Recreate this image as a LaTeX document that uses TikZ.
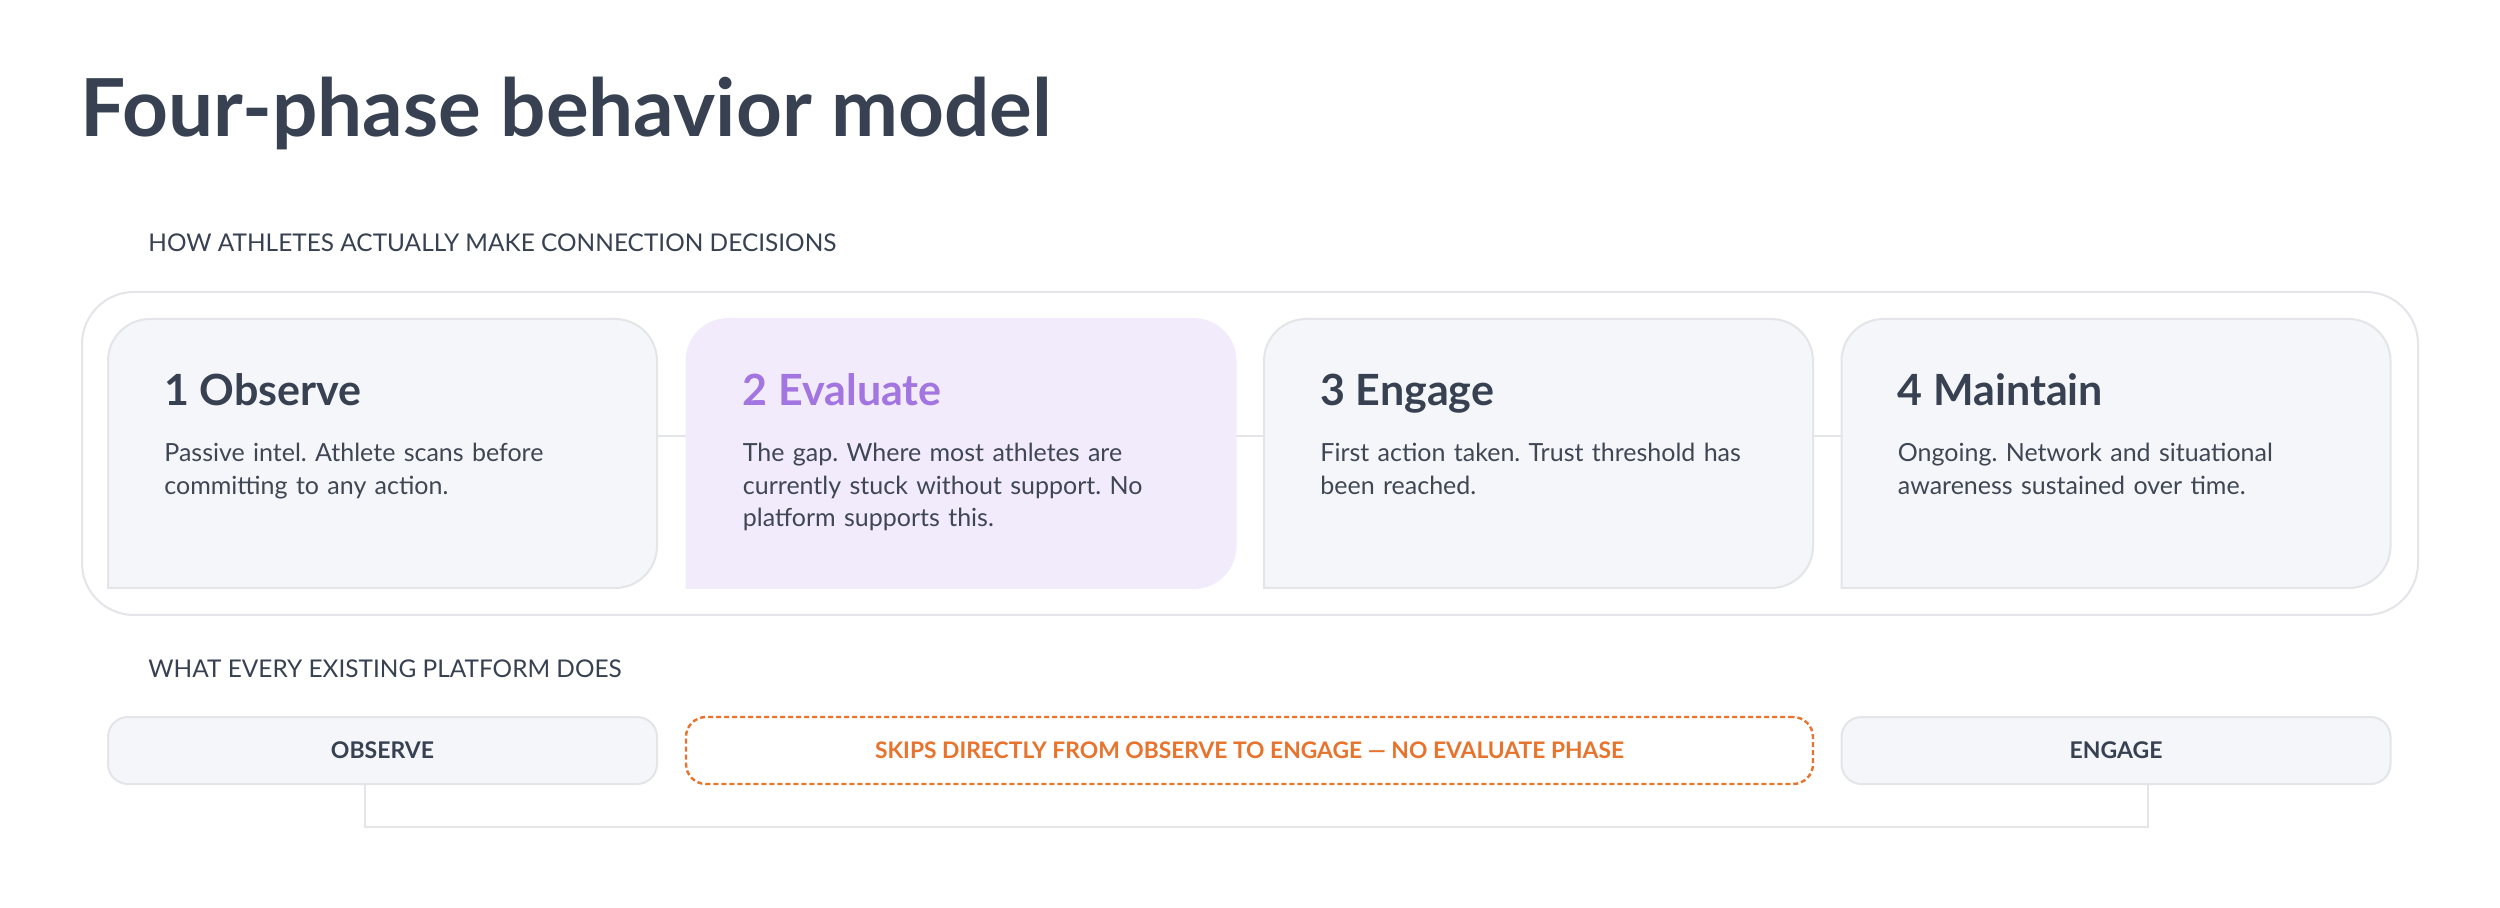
\documentclass[tikz,border=0pt]{standalone}
\usepackage{fontspec}
\setmainfont{Lato}
\usepackage{xcolor}
\definecolor{ink}{HTML}{374151}
\definecolor{bodyink}{HTML}{3F4654}
\definecolor{edge}{HTML}{E3E5E9}
\definecolor{cardfill}{HTML}{F5F6F9}
\definecolor{lilac}{HTML}{F2EBFB}
\definecolor{evalpurple}{HTML}{A375E0}
\definecolor{skiporange}{HTML}{E8732C}
\frenchspacing

\begin{document}
\begin{tikzpicture}[x=0.5pt,y=-0.5pt,
	card/.style={rectangle,inner sep=0pt,outer sep=0pt,minimum width=274.5pt,minimum height=134.5pt},
	tag/.style={rectangle,inner sep=0pt,outer sep=0pt,minimum height=33.5pt,rounded corners=10pt,line width=1pt},
	cardedge/.style={draw=edge,fill=cardfill,line width=1pt,rounded corners=21pt,line cap=rect},
	link/.style={draw=edge,line width=1pt},
	phasetitle/.style={anchor=base west,inner sep=0pt,font=\fontsize{21.5pt}{26pt}\bfseries\selectfont,text=ink},
	phasebody/.style={anchor=base west,inner sep=0pt,text width=240pt,align=left,font=\fontsize{12.5pt}{16.25pt}\selectfont,text=bodyink},
	caps/.style={anchor=base west,inner sep=0pt,font=\fontsize{12.2pt}{15pt}\selectfont,text=ink},
	taglabel/.style={font=\fontsize{11.5pt}{14pt}\bfseries\selectfont,text=ink}
	]
	
	\path[fill=white,use as bounding box] (0,0) rectangle (2500,908);
	
	% heading
	\node[anchor=base west,inner sep=0pt,font=\fontsize{40pt}{48pt}\bfseries\selectfont,text=ink]
		(H) at (80,137) {Four-phase behavior model};
	\node[caps] (S1) at (148,252) {HOW ATHLETES ACTUALLY MAKE CONNECTION DECISIONS};
	
	% frame round the four phases
	\node[rectangle,draw=edge,line width=1pt,rounded corners=26pt,minimum width=1168pt,minimum height=161.5pt]
		(F) at (1250,453.5) {};
	
	\node[card] (C1) at (382.5,453.5) {};
	\node[card] (C2) at (961,453.5) {};
	\node[card] (C3) at (1538.5,453.5) {};
	\node[card] (C4) at (2116,453.5) {};
	
	\foreach \a/\b in {C1/C2,C2/C3,C3/C4}
		\draw[link] ([yshift=8.75pt]\a.east) -- ([yshift=8.75pt]\b.west);
	
	% three rounded corners, bottom left stays square
	\foreach \c in {C1,C3,C4}
		\path[cardedge] (\c.south west) -- (\c.north west) -- (\c.north east) -- (\c.south east) -- (\c.south west);
	\path[cardedge,draw=lilac,fill=lilac]
		(C2.south west) -- (C2.north west) -- (C2.north east) -- (C2.south east) -- (C2.south west);
	
	\node[phasetitle] (T1) at ([shift={(28pt,-43.5pt)}]C1.north west) {1 Observe};
	\node[phasetitle,text=evalpurple] (T2) at ([shift={(28pt,-43.5pt)}]C2.north west) {2 Evaluate};
	\node[phasetitle] (T3) at ([shift={(28pt,-43.5pt)}]C3.north west) {3 Engage};
	\node[phasetitle] (T4) at ([shift={(28pt,-43.5pt)}]C4.north west) {4 Maintain};
	
	\node[phasebody] (D1) at ([shift={(28pt,-71.5pt)}]C1.north west)
		{Passive intel. Athlete scans before\\committing to any action.};
	\node[phasebody] (D2) at ([shift={(28pt,-71.5pt)}]C2.north west)
		{The gap. Where most athletes are\\currently stuck without support. No\\platform supports this.};
	\node[phasebody] (D3) at ([shift={(28pt,-71.5pt)}]C3.north west)
		{First action taken. Trust threshold has\\been reached.};
	\node[phasebody] (D4) at ([shift={(28pt,-71.5pt)}]C4.north west)
		{Ongoing. Network and situational\\awareness sustained over time.};
	
	% what platforms do
	\node[caps] (S2) at (148,677) {WHAT EVERY EXISTING PLATFORM DOES};
	
	\node[tag,draw=edge,fill=cardfill,minimum width=274.5pt,taglabel] (B1) at (382.5,750.5) {OBSERVE};
	\node[tag,draw=skiporange,line width=1.2pt,dash pattern=on 2.5pt off 1.5pt,minimum width=563.5pt,
		taglabel,font=\fontsize{11.4pt}{14pt}\bfseries\selectfont,text=skiporange]
		(B2) at (1249.5,750.5) {SKIPS DIRECTLY FROM OBSERVE TO ENGAGE — NO EVALUATE PHASE};
	\node[tag,draw=edge,fill=cardfill,minimum width=274.5pt,taglabel] (B3) at (2116,750.5) {ENGAGE};
	
	\draw[link] ([xshift=-8.75pt]B1.south) -- ++(0,43) -| ([xshift=16pt]B3.south);
	
\end{tikzpicture}
\end{document}
